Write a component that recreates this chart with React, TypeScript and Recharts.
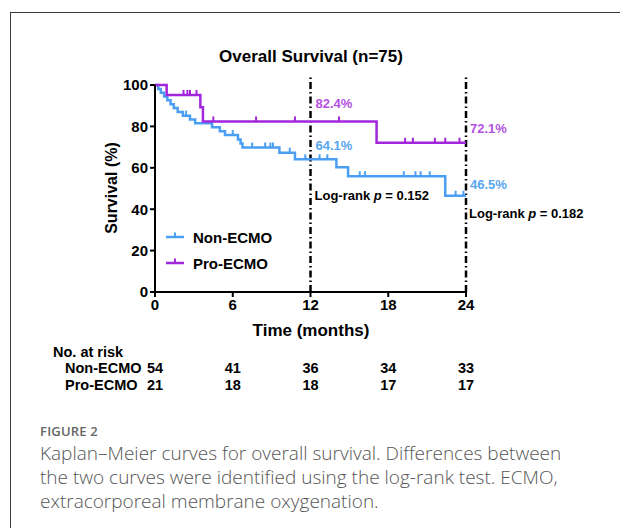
import React from 'react';
import { ComposedChart, Line, Scatter, XAxis, YAxis, ReferenceLine } from 'recharts';

// ---- Data ----
const xTicks = [0, 6, 12, 18, 24];
const yTicks = [0, 20, 40, 60, 80, 100];

const nonEcmoEventTimes = [0.25, 0.45, 0.7, 0.95, 1.2, 1.45, 1.75, 2.15, 2.7, 3.1, 4.4, 5.0, 5.4, 6.4, 6.6, 6.75, 9.6, 10.8, 14.0, 14.9, 22.4];
const nonEcmoEventSurv = [98.1, 96.3, 94.4, 92.6, 90.7, 88.9, 87.0, 85.2, 83.3, 81.5, 79.6, 77.7, 75.8, 73.7, 71.7, 69.8, 67.3, 64.1, 60.3, 55.9, 46.5];
const nonEcmoCensorTimes = [2.4, 6.0, 7.5, 8.5, 8.9, 9.1, 10.4, 11.6, 12.7, 13.3, 15.8, 16.2, 19.2, 20.1, 20.5, 21.2, 23.2, 23.8];

const proEcmoEventTimes = [0.9, 3.5, 3.7, 17.1];
const proEcmoEventSurv = [95.2, 89.3, 82.4, 72.1];
const proEcmoCensorTimes = [2.2, 2.5, 2.7, 3.2, 4.5, 7.8, 10.8, 14.2, 19.3, 19.9, 21.6, 22.4, 23.5];

const riskTimes = [0, 6, 12, 18, 24];
const riskNonEcmo = [54, 41, 36, 34, 33];
const riskProEcmo = [21, 18, 18, 17, 17];

const landmarkTimes = [12, 24];
const landmarkNon = ['64.1%', '46.5%'];
const landmarkPro = ['82.4%', '72.1%'];
const logRankP = ['0.152', '0.182'];

// ---- Styles / layout ----
const BLUE = '#4b9ff2';
const PURPLE = '#a126dc';
const BLUE_LBL = '#58a6f0';
const PURPLE_LBL = '#b452e2';
const FONT = "'Liberation Sans', Arial, Helvetica, sans-serif";
const PLOT_L = 155;
const PLOT_R = 466;
const PLOT_T = 85;
const PLOT_B = 292;
const MAX_T = 24;
const xPos = (t: number) => PLOT_L + (t / MAX_T) * (PLOT_R - PLOT_L);

function buildSteps(times: number[], surv: number[]) {
  const pts = [{ t: 0, s: 100 }];
  times.forEach((t, i) => pts.push({ t, s: surv[i] }));
  pts.push({ t: MAX_T, s: surv[surv.length - 1] });
  return pts;
}
function survAt(times: number[], surv: number[], t: number) {
  let s = 100;
  times.forEach((et, i) => {
    if (et <= t) s = surv[i];
  });
  return s;
}
const nonSteps = buildSteps(nonEcmoEventTimes, nonEcmoEventSurv);
const proSteps = buildSteps(proEcmoEventTimes, proEcmoEventSurv);
const nonCensor = nonEcmoCensorTimes.map((t) => ({ t, s: survAt(nonEcmoEventTimes, nonEcmoEventSurv, t) }));
const proCensor = proEcmoCensorTimes.map((t) => ({ t, s: survAt(proEcmoEventTimes, proEcmoEventSurv, t) }));

const tickShape = (color: string) => (props: any) => {
  const { cx, cy } = props;
  if (cx == null || cy == null) return <g />;
  return <line x1={cx} y1={cy} x2={cx} y2={cy - 5} stroke={color} strokeWidth={2} />;
};

const abs = (x: number, y: number, extra: React.CSSProperties = {}): React.CSSProperties => ({
  position: 'absolute',
  left: x,
  top: y,
  lineHeight: 1,
  whiteSpace: 'nowrap',
  fontFamily: FONT,
  fontWeight: 700,
  color: '#000',
  transform: 'translateY(-50%)',
  ...extra,
});

export default function App() {
  return (
    <div style={{ position: 'absolute', left: 0, top: 0, width: 620, height: 528, overflow: 'hidden', background: '#fff' }}>
      {/* frame */}
      <div style={{ position: 'absolute', left: 10, top: 12, width: 700, height: 600, borderLeft: '1.5px solid #3a3a3a', borderTop: '1.5px solid #3a3a3a' }} />

      <div style={{ position: 'absolute', left: 0, top: 0 }}>
        <ComposedChart width={620} height={400} margin={{ top: PLOT_T, right: 620 - PLOT_R, bottom: 400 - PLOT_B - 30, left: PLOT_L - 40 }}>
          <XAxis
            dataKey="t"
            type="number"
            domain={[0, MAX_T]}
            ticks={xTicks}
            height={30}
            tickSize={5}
            axisLine={{ stroke: '#000', strokeWidth: 2 }}
            tickLine={{ stroke: '#000', strokeWidth: 2 }}
            tick={{ fill: '#000', fontSize: 15, fontWeight: 700, fontFamily: FONT }}
            allowDuplicatedCategory={false}
          />
          <YAxis
            type="number"
            domain={[0, 100]}
            ticks={yTicks}
            width={40}
            tickSize={5}
            axisLine={{ stroke: '#000', strokeWidth: 2 }}
            tickLine={{ stroke: '#000', strokeWidth: 2 }}
            tick={{ fill: '#000', fontSize: 15, fontWeight: 700, fontFamily: FONT }}
          />
          {landmarkTimes.map((t) => (
            <ReferenceLine
              key={t}
              segment={[{ x: t, y: 0 }, { x: t, y: 105 }]}
              ifOverflow="visible"
              stroke="#000"
              strokeWidth={2.5}
              strokeDasharray="7 3 1.5 3"
            />
          ))}
          <Line data={nonSteps} dataKey="s" type="stepAfter" stroke={BLUE} strokeWidth={2.5} dot={false} isAnimationActive={false} />
          <Line data={proSteps} dataKey="s" type="stepAfter" stroke={PURPLE} strokeWidth={2.5} dot={false} isAnimationActive={false} />
          <Scatter data={nonCensor} dataKey="s" shape={tickShape(BLUE)} isAnimationActive={false} />
          <Scatter data={proCensor} dataKey="s" shape={tickShape(PURPLE)} isAnimationActive={false} />
        </ComposedChart>
      </div>

      {/* title */}
      <div style={abs(311, 56, { fontSize: 17, transform: 'translate(-50%, -50%)' })}>Overall Survival (n=75)</div>
      {/* y label */}
      <div style={abs(112, 188, { fontSize: 16, transform: 'translate(-50%, -50%) rotate(-90deg)' })}>Survival (%)</div>
      {/* x label */}
      <div style={abs(311, 330, { fontSize: 17, transform: 'translate(-50%, -50%)' })}>Time (months)</div>

      {/* landmark labels */}
      <div style={abs(xPos(landmarkTimes[0]) + 5, 103, { fontSize: 13, color: PURPLE_LBL })}>{landmarkPro[0]}</div>
      <div style={abs(xPos(landmarkTimes[0]) + 5, 145, { fontSize: 13, color: BLUE_LBL })}>{landmarkNon[0]}</div>
      <div style={abs(xPos(landmarkTimes[1]) + 4, 128, { fontSize: 13, color: PURPLE_LBL })}>{landmarkPro[1]}</div>
      <div style={abs(xPos(landmarkTimes[1]) + 4, 184, { fontSize: 13, color: BLUE_LBL })}>{landmarkNon[1]}</div>
      <div style={abs(xPos(landmarkTimes[0]) + 4, 195, { fontSize: 13 })}>
        Log-rank <i>p</i> = {logRankP[0]}
      </div>
      <div style={abs(xPos(landmarkTimes[1]) + 3, 213, { fontSize: 13 })}>
        Log-rank <i>p</i> = {logRankP[1]}
      </div>

      {/* legend */}
      {[
        { name: 'Non-ECMO', color: BLUE, y: 237 },
        { name: 'Pro-ECMO', color: PURPLE, y: 263 },
      ].map((l) => (
        <React.Fragment key={l.name}>
          <svg style={{ position: 'absolute', left: 165, top: l.y - 6 }} width={20} height={10}>
            <line x1={1} y1={6} x2={19} y2={6} stroke={l.color} strokeWidth={2.5} />
            <line x1={10} y1={6} x2={10} y2={1.5} stroke={l.color} strokeWidth={2} />
          </svg>
          <div style={abs(193, l.y, { fontSize: 15 })}>{l.name}</div>
        </React.Fragment>
      ))}

      {/* risk table */}
      <div style={abs(53, 352, { fontSize: 14.5 })}>No. at risk</div>
      <div style={abs(65, 368, { fontSize: 14.5 })}>Non-ECMO</div>
      <div style={abs(65, 385, { fontSize: 14.5 })}>Pro-ECMO</div>
      {riskTimes.map((t, i) => (
        <React.Fragment key={t}>
          <div style={abs(xPos(t), 368, { fontSize: 14.5, transform: 'translate(-50%, -50%)' })}>{riskNonEcmo[i]}</div>
          <div style={abs(xPos(t), 385, { fontSize: 14.5, transform: 'translate(-50%, -50%)' })}>{riskProEcmo[i]}</div>
        </React.Fragment>
      ))}

      {/* caption */}
      <div style={{ position: 'absolute', left: 40, top: 424, lineHeight: '14px', fontFamily: "'Open Sans', 'Noto Sans', sans-serif", fontSize: 13, fontWeight: 600, color: '#666', letterSpacing: 0.2 }}>FIGURE 2</div>
      <div style={{ position: 'absolute', left: 40, top: 441, width: 580, whiteSpace: 'nowrap', fontFamily: "'Open Sans', 'Noto Sans', sans-serif", fontSize: 19, fontWeight: 300, color: '#555', lineHeight: '24px' }}>
        Kaplan–Meier curves for overall survival. Differences between
        <br />
        the two curves were identified using the log-rank test. ECMO,
        <br />
        extracorporeal membrane oxygenation.
      </div>
    </div>
  );
}
